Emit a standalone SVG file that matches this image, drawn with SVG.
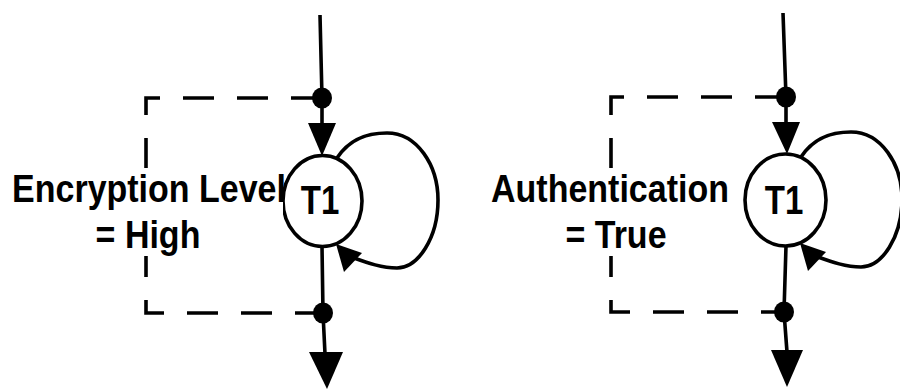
<svg xmlns="http://www.w3.org/2000/svg" width="900" height="391" viewBox="0 0 900 391">
<defs>
<style>
.ln{fill:none;stroke:#000;stroke-width:3.6}
.dash{fill:none;stroke:#000;stroke-width:3.6;stroke-dasharray:31 23}
.node{fill:#fff;stroke:#000;stroke-width:3.6}
.dot{fill:#000}
.ah{fill:#000}
.lbl{font-family:"Liberation Sans",Arial,sans-serif;font-weight:bold;font-size:34px;fill:#000}
.nt{font-family:"Liberation Sans",Arial,sans-serif;font-weight:bold;font-size:33px;fill:#000}
</style>
</defs>
<rect width="900" height="391" fill="#fff"/>
<g id="connectors">
  <path class="ln" d="M320 15 L322 98 L322 124"/>
  <polygon class="ah" points="308,123 336,123 322,156"/>
  <path class="ln" d="M322 246 L323 313 L325 354"/>
  <polygon class="ah" points="309,352 343,352 327,389"/>
  <path class="dash" d="M322 98 H146 V313 H322"/>
  <path class="ln" d="M337 158 C350 138 368 133 387 133 C417 133 438 165 438 200 C438 238 418 268 397 268 C382 268 368 263 354 258"/>
  <polygon class="ah" points="336,244 344,272 362,253"/>
  <path class="ln" d="M783 13 L786 97 L786 124"/>
  <polygon class="ah" points="772,122 800,122 787,154"/>
  <path class="ln" d="M786 246 L784 312 L787 352"/>
  <polygon class="ah" points="771,350 803,350 787,387"/>
  <path class="dash" d="M786 97 H611 V312 H786"/>
  <path class="ln" d="M801 157 C814 137 832 132 851 132 C881 132 902 164 902 199 C902 237 882 267 861 267 C846 267 832 262 818 257"/>
  <polygon class="ah" points="800,243 808,271 826,252"/>
</g>
<g id="dots">
  <ellipse class="dot" cx="322" cy="98" rx="10" ry="10.5"/>
  <ellipse class="dot" cx="323" cy="313" rx="10" ry="10.5"/>
  <ellipse class="dot" cx="786" cy="97" rx="10" ry="10.5"/>
  <ellipse class="dot" cx="784" cy="312" rx="10" ry="10.5"/>
</g>
<g id="node-t1-left">
  <ellipse class="node" cx="322.5" cy="201" rx="39.5" ry="45.5"/>
  <text class="nt" transform="translate(320 214) scale(1 1.25)" text-anchor="middle">T1</text>
</g>
<g id="node-t1-right">
  <ellipse class="node" cx="785.5" cy="200" rx="40.5" ry="46"/>
  <text class="nt" transform="translate(784 214) scale(1 1.25)" text-anchor="middle">T1</text>
</g>
<g id="label-left">
  <rect x="8" y="168" width="275" height="88" fill="#fff"/>
  <text class="lbl" transform="translate(149 202) scale(1 1.12)" text-anchor="middle">Encryption Level</text>
  <text class="lbl" transform="translate(148 248) scale(1 1.12)" text-anchor="middle">= High</text>
</g>
<g id="label-right">
  <rect x="488" y="168" width="245" height="88" fill="#fff"/>
  <text class="lbl" transform="translate(610 202) scale(1 1.12)" text-anchor="middle">Authentication</text>
  <text class="lbl" transform="translate(616 248) scale(1 1.12)" text-anchor="middle">= True</text>
</g>
</svg>
